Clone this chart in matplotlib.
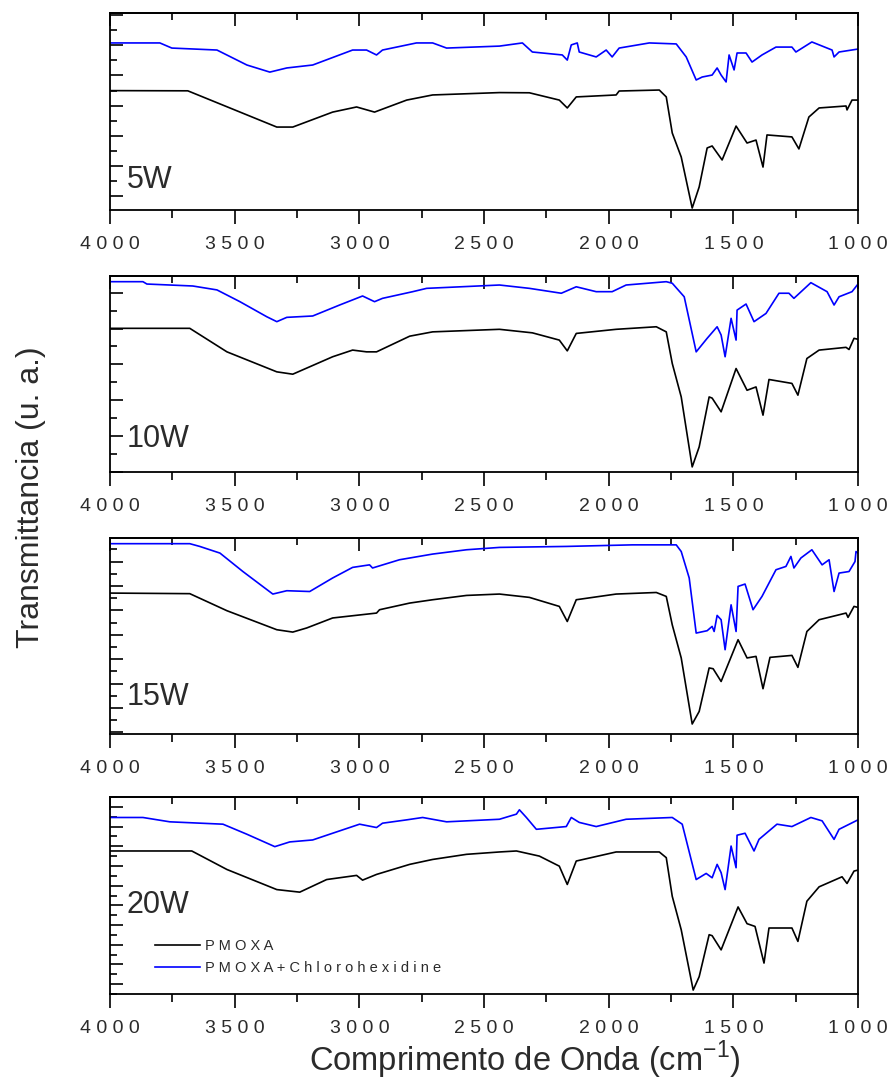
import matplotlib
matplotlib.use("Agg")
import matplotlib.pyplot as plt
from matplotlib.ticker import MultipleLocator, FuncFormatter

plt.rcParams['font.family'] = ['Liberation Sans', 'DejaVu Sans']
plt.rcParams['mathtext.fontset'] = 'custom'
plt.rcParams['mathtext.rm'] = 'Liberation Sans'

# ---- data (wavenumber in cm-1, transmittance in a.u.) ----
powers = ['5W', '10W', '15W', '20W']

wn_5w_pmoxa = [4000, 3688, 3331, 3267, 3107, 3011, 2939, 2810, 2706, 2438, 2318, 2198, 2166, 2130,
               1970, 1958, 1797, 1769, 1745, 1709, 1665, 1637, 1605, 1585, 1545, 1489, 1445, 1409,
               1381, 1365, 1265, 1237, 1197, 1156, 1048, 1044, 1024, 1000]
t_5w_pmoxa = [60.6, 60.5, 42.1, 42.1, 49.7, 52.3, 49.7, 55.8, 58.4, 59.6, 59.5, 55.8, 51.8, 57.4,
              58.4, 60.4, 60.9, 57.4, 39.1, 26.9, 1.0, 11.7, 31.5, 32.5, 25.4, 42.6, 34.0, 35.5,
              21.8, 38.1, 37.1, 31.0, 47.2, 51.8, 52.8, 50.8, 55.8, 55.8]
wn_5w_chx = [4000, 3800, 3752, 3571, 3451, 3359, 3291, 3187, 3027, 2971, 2931, 2907, 2771, 2706,
             2650, 2438, 2346, 2306, 2186, 2166, 2150, 2126, 2118, 2050, 2010, 1986, 1958, 1837,
             1729, 1689, 1649, 1625, 1585, 1565, 1549, 1529, 1517, 1497, 1485, 1449, 1425, 1385,
             1329, 1265, 1249, 1185, 1104, 1096, 1076, 1000]
t_5w_chx = [84.8, 84.8, 82.2, 81.2, 73.6, 70.0, 72.1, 73.6, 81.2, 81.2, 78.7, 81.2, 84.8, 84.8,
            82.2, 83.2, 84.8, 80.2, 78.7, 76.1, 83.8, 84.8, 80.2, 77.7, 81.2, 77.7, 82.2, 84.8,
            84.3, 77.7, 66.0, 67.5, 68.5, 72.1, 68.5, 65.0, 78.7, 71.1, 79.7, 79.7, 75.1, 78.7,
            82.7, 82.7, 80.2, 85.3, 81.2, 77.7, 80.2, 81.7]

wn_10w_pmoxa = [4000, 3680, 3531, 3331, 3267, 3107, 3027, 2971, 2931, 2798, 2706, 2438, 2306, 2198,
                2166, 2130, 1970, 1809, 1769, 1745, 1709, 1665, 1637, 1597, 1585, 1549, 1489, 1445,
                1409, 1381, 1357, 1265, 1241, 1205, 1156, 1048, 1036, 1016, 1000]
t_10w_pmoxa = [73.3, 73.3, 61.3, 51.1, 49.9, 58.8, 62.2, 61.3, 61.3, 69.3, 71.5, 72.8, 71.0, 67.3,
               61.8, 70.7, 72.8, 74.1, 71.5, 55.4, 38.3, 2.6, 12.8, 38.3, 37.7, 30.7, 52.8, 41.7,
               43.4, 29.0, 47.2, 45.2, 39.2, 57.9, 62.2, 63.6, 62.5, 68.2, 67.7]
wn_10w_chx = [4000, 3868, 3852, 3668, 3571, 3479, 3371, 3331, 3291, 3187, 3079, 2987, 2939, 2907,
              2786, 2730, 2438, 2318, 2190, 2130, 2050, 1986, 1930, 1769, 1745, 1697, 1649, 1605,
              1565, 1549, 1533, 1509, 1489, 1485, 1449, 1417, 1369, 1317, 1277, 1257, 1189, 1124,
              1096, 1076, 1024, 1000]
t_10w_chx = [97.1, 97.1, 95.9, 94.9, 92.9, 86.9, 79.2, 76.7, 78.9, 79.6, 85.2, 89.8, 86.9, 88.6,
             92.0, 93.7, 95.4, 93.7, 91.2, 94.5, 92.0, 92.0, 95.4, 97.1, 96.3, 89.4, 61.3, 68.2,
             74.1, 69.9, 58.8, 78.4, 67.3, 82.6, 85.7, 76.7, 80.9, 91.2, 91.2, 88.6, 96.6, 92.0,
             85.2, 89.4, 92.0, 95.9]

wn_15w_pmoxa = [4000, 3680, 3531, 3331, 3267, 3211, 3107, 2931, 2919, 2798, 2706, 2570, 2438, 2318,
                2198, 2166, 2130, 1970, 1809, 1769, 1745, 1709, 1665, 1637, 1597, 1581, 1549, 1481,
                1445, 1409, 1381, 1353, 1265, 1241, 1205, 1156, 1048, 1040, 1016, 1000]
t_15w_pmoxa = [71.9, 71.6, 62.9, 53.2, 52.0, 54.1, 59.2, 61.7, 63.4, 66.8, 68.5, 70.7, 71.4, 69.7,
               65.1, 57.4, 68.5, 71.4, 72.2, 70.2, 55.7, 38.8, 5.1, 11.5, 33.7, 33.3, 26.8, 48.1,
               38.8, 39.6, 23.1, 39.1, 40.1, 34.0, 52.3, 58.3, 61.7, 59.5, 65.1, 64.6]
wn_15w_chx = [4000, 3680, 3640, 3559, 3467, 3347, 3291, 3199, 3107, 3027, 2959, 2947, 2839, 2706,
              2570, 2438, 2170, 1905, 1729, 1709, 1677, 1649, 1605, 1585, 1577, 1565, 1549, 1533,
              1509, 1489, 1481, 1453, 1421, 1385, 1329, 1289, 1269, 1257, 1229, 1185, 1144, 1116,
              1096, 1076, 1036, 1012, 1008, 1000]
t_15w_chx = [97.1, 97.1, 95.7, 92.3, 82.9, 71.4, 73.1, 72.7, 79.6, 85.0, 86.3, 84.7, 88.9, 91.8,
             94.0, 95.2, 95.7, 96.5, 96.5, 93.1, 79.6, 51.5, 52.7, 54.9, 52.3, 60.5, 58.3, 43.0,
             65.9, 52.3, 75.3, 76.5, 63.4, 70.2, 83.8, 85.5, 90.6, 84.7, 89.8, 94.0, 86.3, 88.9,
             72.7, 82.1, 82.9, 88.0, 93.1, 92.3]

wn_20w_pmoxa = [4000, 3672, 3531, 3331, 3239, 3131, 3011, 2987, 2931, 2798, 2706, 2570, 2438, 2370,
                2278, 2198, 2166, 2130, 1970, 1797, 1769, 1745, 1709, 1661, 1637, 1597, 1585, 1549,
                1481, 1445, 1413, 1377, 1357, 1265, 1241, 1205, 1156, 1064, 1044, 1016, 1000]
t_20w_pmoxa = [72.6, 72.6, 63.2, 53.0, 51.7, 58.1, 60.2, 57.8, 60.7, 65.8, 68.3, 70.9, 72.1, 72.6,
               70.0, 64.9, 55.6, 67.5, 72.1, 72.1, 69.2, 49.6, 32.6, 2.0, 8.8, 30.1, 29.6, 22.4,
               44.2, 35.7, 34.3, 15.7, 33.5, 33.5, 26.7, 47.1, 54.4, 59.5, 56.1, 62.4, 62.9]
wn_20w_chx = [4000, 3868, 3760, 3547, 3451, 3339, 3279, 3187, 3079, 2999, 2931, 2907, 2810, 2746,
              2650, 2438, 2370, 2358, 2330, 2290, 2170, 2150, 2118, 2050, 1930, 1745, 1705, 1649,
              1609, 1585, 1565, 1549, 1533, 1509, 1489, 1485, 1453, 1417, 1397, 1325, 1265, 1189,
              1144, 1096, 1076, 1000]
t_20w_chx = [89.6, 89.6, 87.4, 86.2, 81.1, 74.8, 77.2, 78.2, 82.8, 86.2, 84.5, 86.7, 88.4, 89.6,
             87.4, 88.7, 91.3, 93.5, 89.6, 83.6, 85.0, 89.6, 87.1, 85.0, 88.7, 89.6, 86.2, 58.1,
             61.2, 59.0, 65.8, 61.6, 53.0, 75.1, 64.1, 80.6, 81.6, 72.6, 78.5, 86.2, 85.0, 89.6,
             87.9, 78.5, 83.6, 88.4]

pmoxa = [(wn_5w_pmoxa, t_5w_pmoxa), (wn_10w_pmoxa, t_10w_pmoxa),
         (wn_15w_pmoxa, t_15w_pmoxa), (wn_20w_pmoxa, t_20w_pmoxa)]
chx = [(wn_5w_chx, t_5w_chx), (wn_10w_chx, t_10w_chx),
       (wn_15w_chx, t_15w_chx), (wn_20w_chx, t_20w_chx)]

# ---- layout ----
W, H = 888, 1084
panel_px = [(13, 210), (276, 472), (538, 734), (797, 994)]   # top/bottom pixel rows
ytick_major = [(15.3, 7.1), (18.3, 0.0), (12.45, 0.8), (10.0, 5.0)]
label_y = [0.15, 0.17, 0.19, 0.45]
txt = '#2b2b2b'

fig = plt.figure(figsize=(W / 100, H / 100), dpi=100)
spaced = FuncFormatter(lambda v, p: ' '.join(str(int(round(v)))))

for i in range(4):
    top, bot = panel_px[i]
    ax = fig.add_axes([110 / W, 1 - bot / H, 748 / W, (bot - top) / H])
    ax.plot(*pmoxa[i], color='black', lw=1.2, label=' '.join('PMOXA'))
    ax.plot(*chx[i], color='#0000ff', lw=1.2, label=' '.join('PMOXA+Chlorohexidine'))
    ax.set_xlim(4000, 1000)
    ax.set_ylim(0, 100)

    ax.xaxis.set_major_locator(MultipleLocator(500))
    ax.xaxis.set_minor_locator(MultipleLocator(250))
    ax.xaxis.set_major_formatter(spaced)
    step, off = ytick_major[i]
    ax.yaxis.set_major_locator(MultipleLocator(step, offset=off))
    ax.yaxis.set_minor_locator(MultipleLocator(step / 2, offset=off))
    ax.yaxis.set_major_formatter(FuncFormatter(lambda v, p: ''))

    ax.tick_params(axis='x', which='both', bottom=True, top=False, direction='out',
                   labelsize=14, labelcolor=txt, pad=9, width=1.2)
    ax.tick_params(axis='x', which='major', length=10)
    ax.tick_params(axis='x', which='minor', length=6)
    ax.tick_params(axis='y', which='both', left=True, right=False, direction='in', width=1.2)
    ax.tick_params(axis='y', which='major', length=9)
    ax.tick_params(axis='y', which='minor', length=5)
    # inward ticks on the top spine
    sec = ax.secondary_xaxis('top')
    sec.xaxis.set_major_locator(MultipleLocator(500))
    sec.xaxis.set_minor_locator(MultipleLocator(250))
    sec.tick_params(which='both', direction='in', labeltop=False, width=1.2)
    sec.tick_params(which='major', length=9)
    sec.tick_params(which='minor', length=5)
    for s in ax.spines.values():
        s.set_linewidth(1.3)
    sec.spines['top'].set_linewidth(1.3)

    ax.text(0.022, label_y[i], powers[i], transform=ax.transAxes, fontsize=22,
            color=txt, va='center', ha='left')

    if i == 3:
        ax.legend(loc='upper left', bbox_to_anchor=(0.042, 0.345), frameon=False,
                  fontsize=10.5, handlelength=3.1, handletextpad=0.35, labelspacing=0.55,
                  labelcolor=txt)

fig.text(31 / W, 1 - 497 / H, 'Transmittancia (u. a.)', rotation=90, fontsize=23,
         color=txt, ha='center', va='center')
fig.text(525 / W, 1 - 1060 / H, r'Comprimento de Onda (cm$^{-1}$)', fontsize=23.5,
         color=txt, ha='center', va='center')

fig.savefig('out.png', dpi=100)
